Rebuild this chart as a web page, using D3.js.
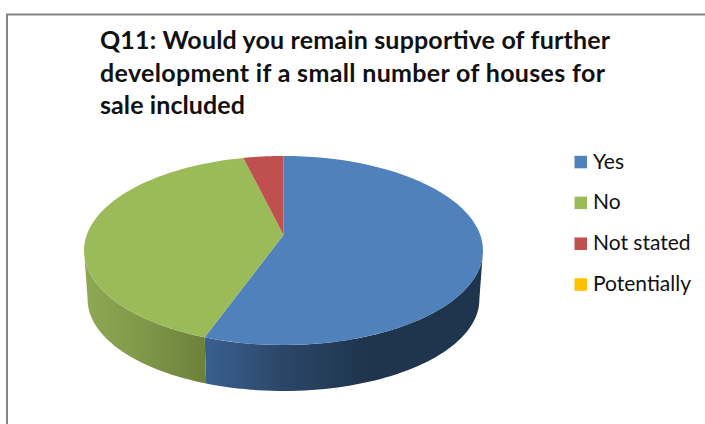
<!DOCTYPE html>
<html>
<head>
<meta charset="utf-8">
<script src="https://cdnjs.cloudflare.com/ajax/libs/d3/7.8.5/d3.min.js"></script>
<style>
  html, body { margin: 0; padding: 0; background: #fff; }
  svg { display: block; }
  text { font-family: Lato, "Open Sans", sans-serif; fill: #111; }
</style>
</head>
<body>
<script>
const titleLines = [
  "Q11: Would you remain supportive of further",
  "development if a small number of houses for",
  "sale included"
];
const categories = ["Yes", "No", "Not stated", "Potentially"];
const shares = [55.5, 40.7, 3.8, 0];
const colors = ["#4f81bd", "#9bbb59", "#c0504d", "#ffc000"];

const width = 705, height = 424;
const titleWidths = [510, 505, 145];
const svg = d3.select("body").append("svg").attr("width", width).attr("height", height);
const defs = svg.append("defs");

// Chart frame: only the top and left edges fall inside the window
svg.append("path")
  .attr("d", d3.line()([[7, height], [7, 14.5], [width, 14.5]]))
  .attr("fill", "none").attr("stroke", "#868686").attr("stroke-width", 2);

// Title
svg.append("g").selectAll("text").data(titleLines).join("text")
  .attr("x", 100)
  .attr("y", (d, i) => 49 + i * 32.6)
  .attr("font-size", 25)
  .attr("font-weight", 700)
  .attr("textLength", (d, i) => titleWidths[i])
  .attr("lengthAdjust", "spacing")
  .text(d => d);

// Perspective disc: a unit circle seen from above and in front
const tilt = 0.164;
const topFace = { cx: 283.5, cy: 235, a: 196.8, b: 92 };
const bottomFace = { cx: 283.5, cy: 284.5, a: 193.2, b: 89 };
function project(angle, face) {
  const x = Math.sin(angle), y = -Math.cos(angle);
  const w = 1 - tilt * y;
  return [face.cx + face.a * x / w, face.cy + face.b * y / w];
}
const sample = (a0, a1) => d3.range(0, 61).map(i => a0 + (a1 - a0) * i / 60);
const line = d3.line();

const pie = d3.pie().sort(null).value(d => d).startAngle(0).endAngle(2 * Math.PI);
const arcs = pie(shares);

// The wall's outline meets each rim where the projected circle is widest
const silhouette = Math.acos(-tilt);

// Side wall: the front of the disc, shaded left to right for each visible slice
const sideShades = {
  0: [[0, "#3a6090"], [0.45, "#2b4768"], [0.95, "#1f344d"], [1, "#1f344d"]],
  1: [[0, "#8ea954"], [0.5, "#7e9748"], [1, "#6e803b"]]
};
const sideRanges = {
  0: [silhouette, arcs[0].endAngle],
  1: [arcs[1].startAngle, 2 * Math.PI - silhouette]
};
Object.keys(sideRanges).forEach(k => {
  const [a0, a1] = sideRanges[k];
  const topRim = sample(a0, a1).map(a => project(a, topFace));
  const botRim = sample(a0, a1).map(a => project(a, bottomFace)).reverse();
  const xs = topRim.concat(botRim).map(p => p[0]);
  const grad = defs.append("linearGradient")
    .attr("id", "side" + k)
    .attr("gradientUnits", "userSpaceOnUse")
    .attr("x1", d3.min(xs))
    .attr("x2", k === "0" ? 375 : d3.max(xs))
    .attr("y1", 0).attr("y2", 0);
  grad.selectAll("stop").data(sideShades[k]).join("stop")
    .attr("offset", d => d[0]).attr("stop-color", d => d[1]);
  svg.append("path")
    .attr("d", line(topRim.concat(botRim)) + "Z")
    .attr("fill", `url(#side${k})`);
});

// Top face
svg.append("g").selectAll("path").data(arcs.filter(d => d.value > 0)).join("path")
  .attr("d", d => line([[topFace.cx, topFace.cy]].concat(
    sample(d.startAngle, d.endAngle).map(a => project(a, topFace)))) + "Z")
  .attr("fill", d => colors[d.index]);

// Legend
const legendY = d3.scalePoint().domain(categories).range([162, 284.5]);
const legend = svg.append("g").selectAll("g").data(categories).join("g")
  .attr("transform", d => `translate(0,${legendY(d)})`);
legend.append("rect")
  .attr("x", 574.5).attr("y", -6.2).attr("width", 12.5).attr("height", 12.5)
  .attr("fill", (d, i) => colors[i]);
legend.append("text")
  .attr("x", 593).attr("y", 6.5)
  .attr("font-size", 21)
  .text(d => d);
</script>
</body>
</html>
